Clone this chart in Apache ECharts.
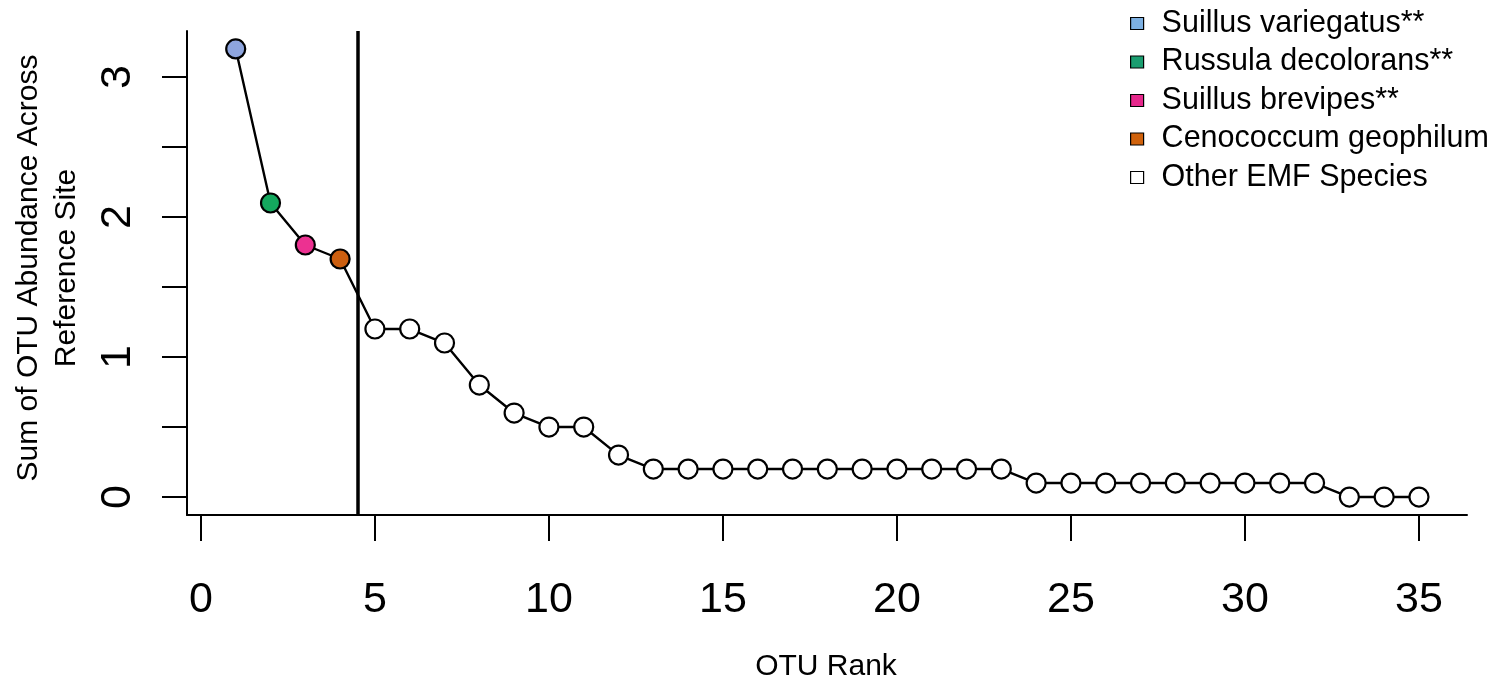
<!DOCTYPE html>
<html>
<head>
<meta charset="utf-8">
<script src="https://cdn.jsdelivr.net/npm/echarts@6/dist/echarts.min.js"></script>
<style>
html,body{margin:0;padding:0;background:#fff;}
#chart{width:1509px;height:683px;}
</style>
</head>
<body>
<div id="chart"></div>
<script>
// ---- data ----
const ranks = [1,2,3,4,5,6,7,8,9,10,11,12,13,14,15,16,17,18,19,20,21,22,23,24,25,26,27,28,29,30,31,32,33,34,35];
const abundance = [3.2,2.1,1.8,1.7,1.2,1.2,1.1,0.8,0.6,0.5,0.5,0.3,
  0.2,0.2,0.2,0.2,0.2,0.2,0.2,0.2,0.2,0.2,0.2,
  0.1,0.1,0.1,0.1,0.1,0.1,0.1,0.1,0.1,
  0,0,0];
const speciesNames = ["Suillus variegatus**","Russula decolorans**","Suillus brevipes**","Cenococcum geophilum","Other EMF Species"];
// group index of each point (into speciesNames)
const pointGroup = [0,1,2,3,4,4,4,4,4,4,4,4,4,4,4,4,4,4,4,4,4,4,4,4,4,4,4,4,4,4,4,4,4,4,4];
const pointColors = ["#8EA5DE","#14A85E","#EC3191","#CC5F10","#ffffff"];
const legendColors = ["#7DB0E2","#1A9E70","#E6288C","#D0620C","#ffffff"];
const cutoffRank = 4.5;
const xTickLabels = [0,5,10,15,20,25,30,35];
const yTickLabels = [0,1,2,3];

const FONT = "'Liberation Sans', Arial, Helvetica, sans-serif";

const chart = echarts.init(document.getElementById('chart'), null, {renderer:'canvas'});

const linePts = ranks.map((r,i)=>[r, abundance[i]]);

const scatterSeries = speciesNames.map((name, g) => ({
  name: name,
  type: 'scatter',
  xAxisIndex: 0, yAxisIndex: 0,
  symbol: 'circle',
  symbolSize: 19,
  z: 5,
  silent: true,
  itemStyle: {color: pointColors[g], borderColor: '#000', borderWidth: 2.2, opacity: 1},
  data: ranks.map((r,i)=> pointGroup[i]===g ? [r, abundance[i]] : null).filter(d=>d)
}));

const option = {
  animation: false,
  backgroundColor: '#fff',
  grid: [
    {left: 187, top: 31, width: 1280, height: 484},   // data + L frame
    {left: 187, top: 77, width: 1280, height: 420},   // y ticks
    {left: 201, top: 31, width: 1218, height: 484}    // x ticks
  ],
  xAxis: [
    {gridIndex: 0, type: 'value', min: -0.4, max: 36.38,
     axisLine: {show: true, onZero: false, lineStyle: {color: '#000', width: 2}},
     axisTick: {show: false}, axisLabel: {show: false}, splitLine: {show: false}},
    {gridIndex: 1, type: 'value', min: 0, max: 1, show: false},
    {gridIndex: 2, type: 'value', min: 0, max: 35, interval: 5,
     axisLine: {show: false},
     axisTick: {show: true, length: 26, lineStyle: {color: '#000', width: 2}},
     axisLabel: {show: true, fontSize: 43, fontFamily: FONT, color: '#000', margin: 64,
       formatter: v => xTickLabels.indexOf(v) >= 0 ? String(v) : ''},
     splitLine: {show: false}}
  ],
  yAxis: [
    {gridIndex: 0, type: 'value', min: -0.128, max: 3.328,
     axisLine: {show: true, onZero: false, lineStyle: {color: '#000', width: 2}},
     axisTick: {show: false}, axisLabel: {show: false}, splitLine: {show: false}},
    {gridIndex: 1, type: 'value', min: 0, max: 3, interval: 0.5,
     axisLine: {show: false},
     axisTick: {show: true, length: 25, lineStyle: {color: '#000', width: 2}},
     axisLabel: {show: true, fontSize: 43, fontFamily: FONT, color: '#000', margin: 47, rotate: 90,
       formatter: v => yTickLabels.indexOf(v) >= 0 ? String(v) : ''},
     splitLine: {show: false}},
    {gridIndex: 2, type: 'value', min: 0, max: 1, show: false}
  ],
  legend: {
    orient: 'vertical',
    left: 1125, top: 3,
    itemWidth: 13, itemHeight: 12,
    itemGap: 7.5,
    selectedMode: false,
    textStyle: {fontSize: 30.5, fontFamily: FONT, color: '#000', lineHeight: 30, padding: [0,0,0,13]},
    data: speciesNames.map((n,g)=>({name: n, icon: 'rect',
      itemStyle: {color: legendColors[g], borderColor: '#000', borderWidth: 1.2}}))
  },
  graphic: [
    {type: 'text', x: 48, y: 268, rotation: Math.PI/2, silent: true,
     style: {text: 'Sum of OTU Abundance Across\nReference Site', fill: '#000',
       font: "30px " + FONT, textAlign: 'center', textVerticalAlign: 'middle', lineHeight: 38}},
    {type: 'text', x: 826, y: 667, silent: true,
     style: {text: 'OTU Rank', fill: '#000', font: "30px " + FONT,
       textAlign: 'center', textVerticalAlign: 'middle'}}
  ],
  series: [
    {name: 'rank-abundance', type: 'line', xAxisIndex: 0, yAxisIndex: 0,
     data: linePts, symbol: 'none', z: 3, silent: true,
     lineStyle: {color: '#000', width: 2.4},
     markLine: {silent: true, symbol: ['none','none'], label: {show: false},
       lineStyle: {color: '#000', width: 3.5, type: 'solid'},
       data: [{xAxis: cutoffRank}]}}
  ].concat(scatterSeries)
};
chart.setOption(option);
</script>
</body>
</html>
